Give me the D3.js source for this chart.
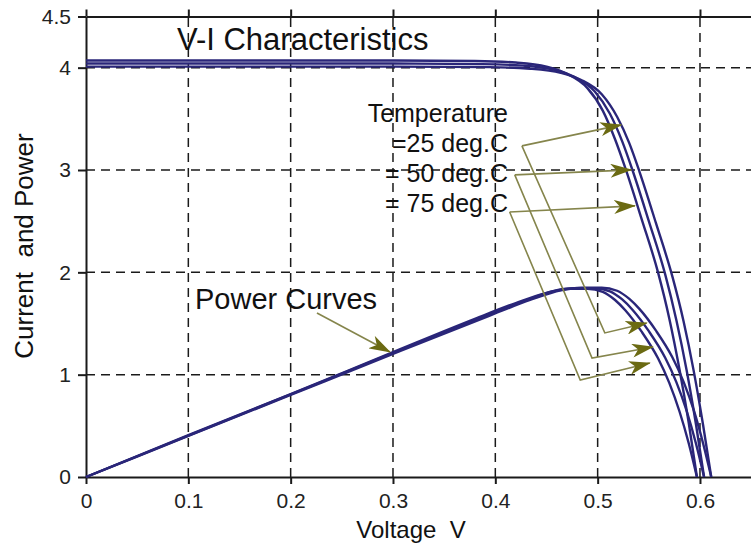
<!DOCTYPE html>
<html>
<head>
<meta charset="utf-8">
<script src="https://cdn.jsdelivr.net/npm/d3@7"></script>
<style>
  body { margin: 0; background: #fff; }
  text { font-family: "Liberation Sans", Arial, sans-serif; }
</style>
</head>
<body>
<div class="chart"></div>
<script>
// ---- data ----
var xTicks = [0, 0.1, 0.2, 0.3, 0.4, 0.5, 0.6];
var yTicks = [0, 1, 2, 3, 4, 4.5];
var xGrid = [0.1, 0.2, 0.3, 0.4, 0.5, 0.6];
var yGrid = [1, 2, 3, 4];

// 75 deg.C (lowest Voc)
var voltage75 = [0, 0.1, 0.2, 0.3, 0.38, 0.42, 0.45, 0.47, 0.49, 0.505, 0.517, 0.527, 0.543, 0.559, 0.570, 0.580, 0.589, 0.597];
var current75 = [4.07, 4.07, 4.07, 4.07, 4.065, 4.05, 4.01, 3.94, 3.80, 3.58, 3.30, 3.02, 2.52, 2.00, 1.55, 1.05, 0.53, 0];
var power75   = [0, 0.41, 0.81, 1.22, 1.545, 1.70, 1.80, 1.84, 1.84, 1.81, 1.73, 1.63, 1.42, 1.16, 0.92, 0.64, 0.33, 0];

// 50 deg.C
var voltage50 = [0, 0.1, 0.2, 0.3, 0.387, 0.427, 0.457, 0.477, 0.497, 0.512, 0.524, 0.534, 0.550, 0.566, 0.577, 0.587, 0.596, 0.604];
var current50 = [4.04, 4.04, 4.04, 4.04, 4.035, 4.02, 3.98, 3.91, 3.77, 3.55, 3.28, 3.00, 2.50, 1.98, 1.53, 1.04, 0.52, 0];
var power50   = [0, 0.404, 0.808, 1.212, 1.56, 1.715, 1.815, 1.845, 1.845, 1.815, 1.735, 1.635, 1.425, 1.165, 0.925, 0.645, 0.33, 0];

// 25 deg.C (highest Voc)
var voltage25 = [0, 0.1, 0.2, 0.3, 0.394, 0.434, 0.464, 0.484, 0.504, 0.519, 0.531, 0.541, 0.557, 0.573, 0.584, 0.594, 0.603, 0.611];
var current25 = [4.01, 4.01, 4.01, 4.01, 4.005, 3.99, 3.95, 3.88, 3.74, 3.52, 3.26, 2.98, 2.48, 1.96, 1.52, 1.03, 0.51, 0];
var power25   = [0, 0.401, 0.802, 1.203, 1.575, 1.73, 1.825, 1.85, 1.85, 1.82, 1.74, 1.64, 1.43, 1.17, 0.93, 0.65, 0.33, 0];

var tempLabels = ["=25 deg.C", "= 50 deg.C", "= 75 deg.C"];

// annotation arrows in data units: [start, tip on V-I curve, bend, tip on power curve]
var arrow25 = [[0.426, 3.236], [0.523, 3.441], [0.507, 1.408], [0.548, 1.505]];
var arrow50 = [[0.419, 2.952], [0.533, 3.001], [0.4945, 1.163], [0.554, 1.271]];
var arrow75 = [[0.414, 2.590], [0.5365, 2.649], [0.483, 0.948], [0.551, 1.114]];
var powerArrow = [[0.2257, 1.603], [0.2971, 1.222]];

// ---- layout ----
var svgWidth = 751;
var svgHeight = 547;
var margin = { top: 16.5, right: 0, bottom: 70, left: 86 };

var svg = d3.select(".chart").append("svg")
  .attr("width", svgWidth).attr("height", svgHeight);

var xScale = d3.scaleLinear().domain([0, 0.65]).range([margin.left, margin.left + 0.65 * 1023.3]);
var yScale = d3.scaleLinear().domain([0, 4.5]).range([477, margin.top]);

var ink = "#1a1a1a";
var curveColor = "#2a2679";
var arrowColor = "#85854c";
var headColor = "#6b6a12";

// grid
svg.append("g").selectAll("line").data(xGrid).enter().append("line")
  .attr("x1", d => xScale(d)).attr("x2", d => xScale(d))
  .attr("y1", yScale(0)).attr("y2", yScale(4.5))
  .attr("stroke", ink).attr("stroke-width", 1.5).attr("stroke-dasharray", "9,6");
svg.append("g").selectAll("line").data(yGrid).enter().append("line")
  .attr("x1", xScale(0)).attr("x2", xScale(0.65))
  .attr("y1", d => yScale(d)).attr("y2", d => yScale(d))
  .attr("stroke", ink).attr("stroke-width", 1.5).attr("stroke-dasharray", "9,6");

// axes
var bottomAxis = d3.axisBottom(xScale).tickValues(xTicks).tickSize(7).tickPadding(9).tickSizeOuter(0)
  .tickFormat(d => d === 0 ? "0" : d3.format(".1f")(d));
var leftAxis = d3.axisLeft(yScale).tickValues(yTicks).tickSize(8).tickPadding(7).tickSizeOuter(0)
  .tickFormat(d => String(d));
var topAxis = d3.axisTop(xScale).tickValues(xTicks).tickSize(7).tickSizeOuter(0).tickFormat("");

function styleAxis(g) {
  g.select(".domain").attr("stroke", ink).attr("stroke-width", 2);
  g.selectAll(".tick line").attr("stroke", ink).attr("stroke-width", 2);
  g.selectAll(".tick text").attr("fill", "#222").style("font-size", "21px")
    .style("font-family", "'Liberation Sans', Arial, sans-serif");
}

svg.append("g").attr("transform", `translate(0, ${yScale(0)})`).call(bottomAxis).call(styleAxis);
svg.append("g").attr("transform", `translate(0, ${yScale(4.5)})`).call(topAxis).call(styleAxis);
svg.append("g").attr("transform", `translate(${xScale(0)}, 0)`).call(leftAxis).call(styleAxis);

// curves
var line = d3.line().x(d => xScale(d[0])).y(d => yScale(d[1])).curve(d3.curveMonotoneX);
var series = [
  [voltage75, current75], [voltage50, current50], [voltage25, current25],
  [voltage75, power75], [voltage50, power50], [voltage25, power25]
];
svg.append("g").selectAll("path").data(series).enter().append("path")
  .attr("d", s => line(d3.zip(s[0], s[1])))
  .attr("fill", "none").attr("stroke", curveColor).attr("stroke-width", 2.4);

// arrow head marker
svg.append("defs").append("marker")
  .attr("id", "head").attr("markerUnits", "userSpaceOnUse")
  .attr("viewBox", "0 0 22 14").attr("refX", 21).attr("refY", 7)
  .attr("markerWidth", 22).attr("markerHeight", 14).attr("orient", "auto")
  .append("path").attr("d", "M0,0 L22,7 L0,14 L6,7 Z").attr("fill", headColor);

var plain = d3.line().x(d => xScale(d[0])).y(d => yScale(d[1]));
var arrowPaths = [powerArrow];
[arrow25, arrow50, arrow75].forEach(function(a) {
  arrowPaths.push([a[0], a[1]]);
  arrowPaths.push([a[0], a[2], a[3]]);
});
svg.append("g").selectAll("path").data(arrowPaths).enter().append("path")
  .attr("d", d => plain(d))
  .attr("fill", "none").attr("stroke", arrowColor).attr("stroke-width", 1.6)
  .attr("marker-end", "url(#head)");

// labels
svg.append("text").attr("x", xScale(0.0889)).attr("y", yScale(4.174))
  .style("font-size", "31px").attr("fill", "#111").text("V-I Characteristics");
svg.append("text").attr("x", xScale(0.1065)).attr("y", yScale(1.642))
  .style("font-size", "29px").attr("fill", "#111").text("Power Curves");
svg.append("text").attr("x", xScale(0.4124)).attr("y", yScale(3.470))
  .attr("text-anchor", "end").style("font-size", "25px").attr("fill", "#111").text("Temperature");
var tempY = [3.177, 2.884, 2.590];
svg.append("g").selectAll("text").data(tempLabels).enter().append("text")
  .attr("x", xScale(0.4124)).attr("y", (d, i) => yScale(tempY[i]))
  .attr("text-anchor", "end").style("font-size", "25px").attr("fill", "#111").text(d => d);

// axis titles
svg.append("text").attr("x", 411).attr("y", 538).attr("text-anchor", "middle")
  .style("font-size", "24px").attr("fill", "#111").style("white-space", "pre").text("Voltage  V");
svg.append("text").attr("transform", "translate(33, 246) rotate(-90)").attr("text-anchor", "middle")
  .style("font-size", "26px").attr("fill", "#111").style("white-space", "pre").text("Current  and Power");
</script>
</body>
</html>
